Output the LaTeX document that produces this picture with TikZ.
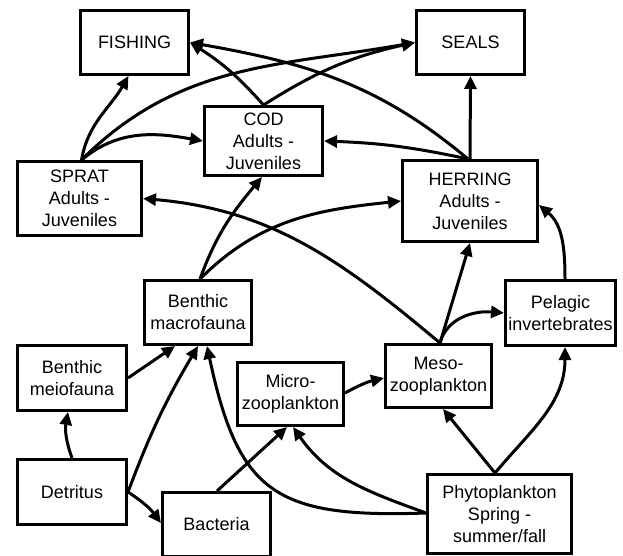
\documentclass[tikz,border=0pt]{standalone}
\usepackage{fontspec}
\setmainfont{Liberation Sans}
\usetikzlibrary{arrows.meta}

\begin{document}
\begin{tikzpicture}[x=1pt, y=-1pt, line width=3pt, line join=miter,
box/.style={draw, rectangle, align=center, inner sep=1pt, font=\fontsize{18}{22}\selectfont},
feed/.style={-{Triangle[length=13pt,width=12pt]}}]

\useasboundingbox (0,0) rectangle (623,556);

\node[box, minimum width=108pt, minimum height=64pt] (fishing) at (134.5,42.5) {FISHING};
\node[box, minimum width=108pt, minimum height=64pt] (seals) at (470.5,42.5) {SEALS};
\node[box, minimum width=118pt, minimum height=69pt] (cod) at (263.5,141) {COD\\Adults -\\Juveniles};
\node[box, minimum width=124pt, minimum height=74pt] (sprat) at (79.5,198.5) {SPRAT\\Adults -\\Juveniles};
\node[box, minimum width=135pt, minimum height=81pt] (herring) at (470,201) {HERRING\\Adults -\\Juveniles};
\node[box, minimum width=107pt, minimum height=64pt] (macro) at (198,312.5) {Benthic\\macrofauna};
\node[box, minimum width=109pt, minimum height=65pt] (meio) at (72,378) {Benthic\\meiofauna};
\node[box, minimum width=106pt, minimum height=63pt] (micro) at (290.5,394) {Micro-\\zooplankton};
\node[box, minimum width=106pt, minimum height=63pt] (meso) at (438.5,376) {Meso-\\zooplankton};
\node[box, minimum width=110pt, minimum height=65pt] (pelagic) at (560.5,313) {Pelagic\\invertebrates};
\node[box, minimum width=109pt, minimum height=65pt] (detritus) at (72,492) {Detritus};
\node[box, minimum width=108pt, minimum height=64pt] (bacteria) at (216.5,524.5) {Bacteria};
\node[box, minimum width=144pt, minimum height=79pt] (phyto) at (499.5,514) {Phytoplankton\\Spring -\\summer/fall};

\begin{scope}[feed]
\draw ([xshift=2pt]sprat.north) to[out=80, in=240] ([xshift=-6pt]fishing.south);
\draw ([xshift=2pt]sprat.north) to[out=45, in=190] (seals.west);
\draw ([xshift=2pt]sprat.north) to[out=40, in=170] (cod.west);
\draw (cod.north) to[bend right=8] (fishing.east);
\draw (cod.north) to[bend left=10] (seals.west);
\draw ([xshift=-2pt]herring.north) to[out=140, in=-10] (fishing.east);
\draw (herring.north) -- (seals.south);
\draw ([xshift=-2pt]herring.north) to[bend right=5] (cod.east);
\draw ([xshift=1.5pt]meso.north) to[out=140, in=-5] (sprat.east);
\draw ([xshift=2pt]macro.north) to[out=70, in=230] ([xshift=-1.5pt]cod.south);
\draw ([xshift=2pt]macro.north) to[out=45, in=186] (herring.west);
\draw (meio.east) -- ([xshift=-23pt]macro.south);
\draw (detritus.north) to[bend left=15] ([xshift=-4pt]meio.south);
\draw (detritus.east) to[bend left=5] (macro.south);
\draw (detritus.east) to[bend left=10] ([yshift=1.5pt]bacteria.west);
\draw ([xshift=0.5pt]bacteria.north) -- ([xshift=-3.5pt]micro.south);
\draw ([yshift=1pt]phyto.west) to[out=182, in=-78, looseness=1.4] ([xshift=9pt]macro.south);
\draw ([yshift=1pt]phyto.west) to[out=160, in=-55] ([xshift=2.5pt]micro.south);
\draw ([xshift=-4.5pt]phyto.north) -- ([xshift=4.5pt]meso.south);
\draw ([xshift=-4.5pt]phyto.north) to[out=50, in=-90] ([xshift=4.5pt]pelagic.south);
\draw ([yshift=1pt]micro.east) to[bend left=8] ([yshift=-2pt]meso.west);
\draw ([xshift=1.5pt]meso.north) -- (herring.south);
\draw ([xshift=1.5pt]meso.north) to[out=75, in=175] (pelagic.west);
\draw ([xshift=4.5pt]pelagic.north) to[out=90, in=-40] ([yshift=-4pt]herring.east);
\end{scope}

\end{tikzpicture}
\end{document}
